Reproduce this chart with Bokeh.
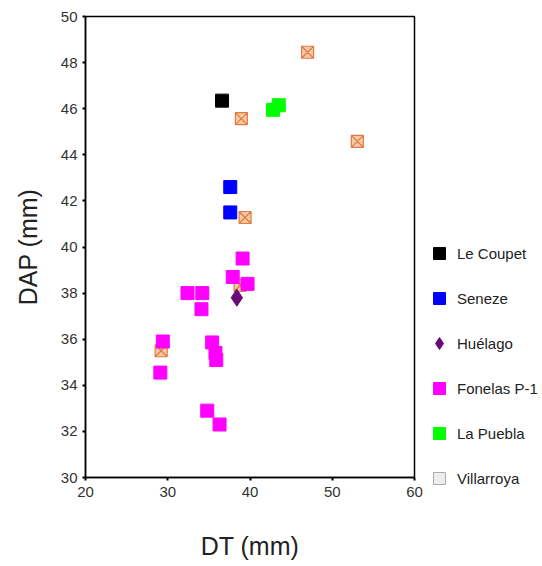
from bokeh.plotting import figure
from bokeh.models import Legend, LegendItem, Range1d, FixedTicker, ColumnDataSource
from bokeh.embed import file_html
from bokeh.resources import INLINE

# data (DT mm, DAP mm)
lecoupet_x = [36.6]
lecoupet_y = [46.35]
seneze_x = [37.6, 37.6]
seneze_y = [42.6, 41.5]
huelago_x = [38.4]
huelago_y = [37.8]
fonelas_x = [39.1, 37.9, 39.7, 32.4, 34.2, 34.1, 29.4, 29.1, 35.4, 35.8, 35.9, 34.8, 36.3]
fonelas_y = [39.5, 38.7, 38.4, 38.0, 38.0, 37.3, 35.9, 34.55, 35.86, 35.4, 35.1, 32.9, 32.3]
puebla_x = [42.8, 43.5]
puebla_y = [45.95, 46.15]
villarroya_x = [47.0, 38.95, 53.05, 39.4, 38.8, 29.2]
villarroya_y = [48.45, 45.57, 44.58, 41.28, 38.33, 35.5]

xticks = [20, 30, 40, 50, 60]
yticks = [30, 32, 34, 36, 38, 40, 42, 44, 46, 48, 50]

FONT = "Liberation Sans"

p = figure(frame_width=329, frame_height=461, output_backend="svg", toolbar_location=None,
           x_range=Range1d(20, 60), y_range=Range1d(30, 50),
           min_border_left=85, min_border_right=10, min_border_top=16, min_border_bottom=89,
           x_axis_label="DT (mm)", y_axis_label="DAP (mm)")
p.grid.visible = False
p.outline_line_color = "black"
p.outline_line_width = 1.5
p.background_fill_color = "white"
p.border_fill_color = "white"

for ax in (p.xaxis[0], p.yaxis[0]):
    ax.axis_line_color = "black"
    ax.axis_line_width = 1.5
    ax.major_tick_in = 0
    ax.major_tick_out = 3
    ax.major_tick_line_width = 2
    ax.minor_tick_line_color = None
    ax.major_label_text_font = FONT
    ax.major_label_text_font_size = "15px"
    ax.major_label_text_color = "#333333"
    ax.axis_label_text_font = FONT
    ax.axis_label_text_font_size = "25px"
    ax.axis_label_text_font_style = "normal"
    ax.axis_label_text_color = "#222222"
p.xaxis.ticker = FixedTicker(ticks=xticks)
p.yaxis.ticker = FixedTicker(ticks=yticks)
p.xaxis.major_label_standoff = 6
p.yaxis.major_label_standoff = 5
p.xaxis.axis_label_standoff = 32
p.yaxis.axis_label_standoff = 16

r_villa = p.scatter(villarroya_x, villarroya_y, marker="square_x", size=12,
                    fill_color="#f4c9a6", line_color="#e07a40", line_width=1.2)
r_lec = p.scatter(lecoupet_x, lecoupet_y, marker="square", size=13, color="black")
r_sen = p.scatter(seneze_x, seneze_y, marker="square", size=13, color="#0000ff")
r_fon = p.scatter(fonelas_x, fonelas_y, marker="square", size=13, color="#ff00ff")
r_pue = p.scatter(puebla_x, puebla_y, marker="square", size=13, color="#00ff00")
r_hue = p.scatter(huelago_x, huelago_y, marker="diamond", size=17, color="#6a0a7a")

legend_only = ColumnDataSource(data=dict(x=[float("nan")], y=[float("nan")]))
r_villa_leg = p.scatter("x", "y", source=legend_only, marker="square", size=12,
                        fill_color="#eeeeee", line_color="#aaaaaa")

legend = Legend(items=[
    LegendItem(label="Le Coupet", renderers=[r_lec]),
    LegendItem(label="Seneze", renderers=[r_sen]),
    LegendItem(label="Huélago", renderers=[r_hue]),
    LegendItem(label="Fonelas P-1", renderers=[r_fon]),
    LegendItem(label="La Puebla", renderers=[r_pue]),
    LegendItem(label="Villarroya", renderers=[r_villa_leg]),
], location=(10, -16))
legend.border_line_color = None
legend.background_fill_alpha = 0
legend.padding = 0
legend.margin = 0
legend.glyph_width = 30
legend.glyph_height = 30
legend.label_height = 14
legend.spacing = 15
legend.label_standoff = 3
legend.label_text_font = FONT
legend.label_text_font_size = "15px"
legend.label_text_color = "#222222"
p.add_layout(legend, "right")

open("out.html", "w").write(file_html(p, INLINE))
